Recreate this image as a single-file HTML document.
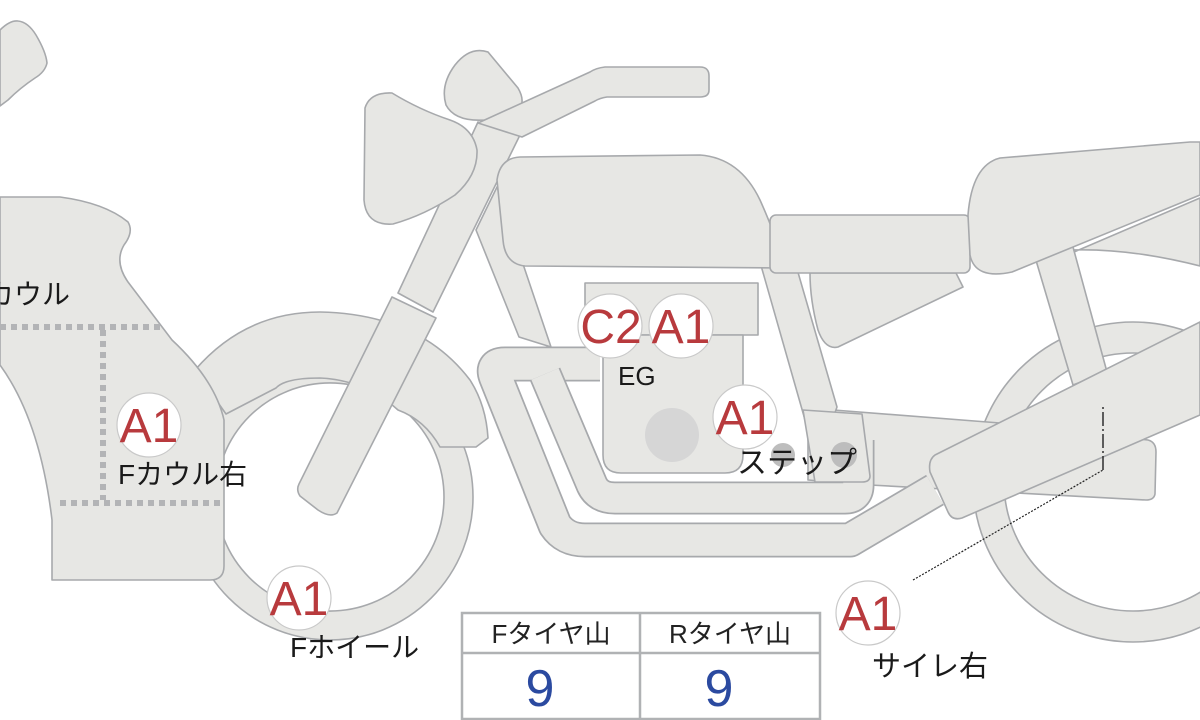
<!DOCTYPE html>
<html><head><meta charset="utf-8"><style>
html,body{margin:0;padding:0;background:#fff;}
svg{display:block;}
text{font-family:"Liberation Sans","Noto Sans CJK JP",sans-serif;}
</style></head><body>
<svg width="1200" height="720" viewBox="0 0 1200 720" xmlns="http://www.w3.org/2000/svg">
<g fill="#e7e7e4" stroke="#a7a9ac" stroke-width="1.6" stroke-linejoin="round">
<path d="M0,30 Q10,20 18,21 Q28,22 36,35 Q46,52 47,63 Q45,72 35,78 Q20,88 8,100 L0,106 Z"/>
<path fill-rule="evenodd" d="M973,482 a160,160 0 1,0 320,0 a160,160 0 1,0 -320,0 Z M1004,482 a129,129 0 1,0 258,0 a129,129 0 1,0 -258,0 Z"/>
<path d="M1060,258 L1200,198 L1200,266 Q1130,248 1070,250 Z"/>
<path d="M1035,257 L1073,247 L1107,372 L1073,385 Z"/>
<path d="M808,408 L1000,423 L1148,440 Q1156,442 1156,452 L1155,494 Q1154,500 1146,500 L870,485 L808,480 Z"/>
<path fill-rule="evenodd" d="M187,497 a143,143 0 1,0 286,0 a143,143 0 1,0 -286,0 Z M216,497 a114,114 0 1,0 228,0 a114,114 0 1,0 -228,0 Z"/>
<path d="M195,370 Q245,312 320,312 Q420,314 470,380 Q486,405 488,438 L476,447 L440,447 Q425,420 398,410 Q365,380 320,378 Q285,378 276,388 L226,414 Z"/>
<path d="M0,197 L60,197 Q105,203 128,222 Q134,232 124,245 Q114,262 128,282 L172,340 Q215,380 224,420 L224,566 Q224,580 210,580 L52,580 L52,520 Q40,420 0,365 Z"/>
<path d="M398,293 L433,312 L520,135 L478,122 Z"/>
<path d="M392,297 L436,318 L337,513 Q330,518 318,510 L300,496 Q296,490 299,484 Z"/>
<path d="M476,230 L497,187 L551,347 L519,337 Z"/>
<path d="M488,52 Q470,46 455,65 Q440,85 446,105 Q455,122 485,120 Q510,116 520,108 Q525,100 518,88 Z"/>
<path d="M392,93 Q370,92 365,108 L364,200 Q366,226 393,224 Q425,215 455,195 Q478,175 477,150 Q473,128 450,120 Q420,110 392,93 Z"/>
<path d="M478,123 L590,72 Q596,68 605,67 L700,67 Q709,67 709,76 L709,90 Q709,97 700,97 L607,97 Q600,98 595,101 L522,137 Z"/>
<path d="M760,262 L795,262 L837,407 L817,462 Z"/>
<path d="M520,157 L700,155 Q740,158 760,200 Q778,240 784,268 L525,266 Q505,264 503,240 L497,180 Q500,158 520,157 Z"/>
<path d="M810,273 L956,273 L963,287 L838,347 Q825,350 818,330 Q810,300 810,273 Z"/>
<rect x="770" y="215" width="200" height="58" rx="6"/>
<path d="M1000,158 L1190,142 L1200,142 L1200,195 L1012,272 Q975,280 970,255 L968,215 Q972,165 1000,158 Z"/>
<path d="M600,364 L505,364 Q490,364 496,378 L555,525 Q565,540 585,540 L850,540 L935,490" fill="none" stroke="#a7a9ac" stroke-width="35"/>
<path d="M600,364 L505,364 Q490,364 496,378 L555,525 Q565,540 585,540 L850,540 L935,490" fill="none" stroke="#e7e7e4" stroke-width="31.5"/>
<path d="M545,374 L592,485 Q598,498 615,498 L845,498 Q858,498 858,485 L858,440" fill="none" stroke="#a7a9ac" stroke-width="33"/>
<path d="M545,374 L592,485 Q598,498 615,498 L845,498 Q858,498 858,485 L858,440" fill="none" stroke="#e7e7e4" stroke-width="29.5"/>
<path d="M803,410 L862,414 L870,476 Q870,482 862,482 L815,482 Z"/>
<path d="M935,455 L1200,322 L1200,415 L962,518 Q952,521 948,512 L930,472 Q928,460 935,455 Z"/>
<rect x="585" y="283" width="173" height="52"/>
<path d="M603,335 L743,335 L743,455 Q743,473 725,473 L621,473 Q603,473 603,455 Z"/>
</g>
<circle cx="672" cy="435" r="27" fill="#d6d6d6"/>
<circle cx="783" cy="455" r="12" fill="#bdbdbd"/>
<circle cx="844" cy="455" r="13" fill="#bdbdbd"/>
<g stroke="#b3b4b6" stroke-width="6" stroke-dasharray="6,5" fill="none">
<path d="M0,327 L165,327"/>
<path d="M103,330 L103,500"/>
<path d="M60,503 L222,503"/>
</g>
<path d="M913,580 L1103,470" stroke="#222" stroke-width="1.2" stroke-dasharray="2,1.5" fill="none"/>
<path d="M1103,470 L1103,405" stroke="#222" stroke-width="1.4" stroke-dasharray="14,3,2,3" fill="none"/>
<g fill="#fff" stroke="#c9c9c9" stroke-width="1.2">
<circle cx="610" cy="326" r="32"/>
<circle cx="681" cy="326" r="32"/>
<circle cx="745" cy="417" r="32"/>
<circle cx="149" cy="425" r="32"/>
<circle cx="299" cy="598" r="32"/>
<circle cx="868" cy="613" r="32"/>
</g>
<g fill="#b83a3d" font-size="48" text-anchor="middle">
<text x="611" y="343">C2</text>
<text x="681" y="343">A1</text>
<text x="745" y="434">A1</text>
<text x="149" y="442">A1</text>
<text x="299" y="615">A1</text>
<text x="868" y="630">A1</text>
</g>
<g fill="#1a1a1a" font-size="28">
<text x="-14" y="304">カウル</text>
<text x="118" y="484">Fカウル右</text>
<text x="290" y="657">Fホイール</text>
<text x="618" y="385" font-size="26">EG</text>
<text x="737" y="473" font-size="30">ステップ</text>
<text x="872" y="676" font-size="29">サイレ右</text>
</g>
<g fill="#fff" stroke="#b0b2b4" stroke-width="2.5">
<rect x="462" y="613" width="358" height="106"/>
<line x1="462" y1="653" x2="820" y2="653"/>
<line x1="640" y1="613" x2="640" y2="719"/>
</g>
<g font-size="26" fill="#222" text-anchor="middle">
<text x="551" y="643">Fタイヤ山</text>
<text x="730" y="643">Rタイヤ山</text>
</g>
<g font-size="52" fill="#2b4aa0" text-anchor="middle">
<text x="540" y="706">9</text>
<text x="719" y="706">9</text>
</g>
</svg>
</body></html>
